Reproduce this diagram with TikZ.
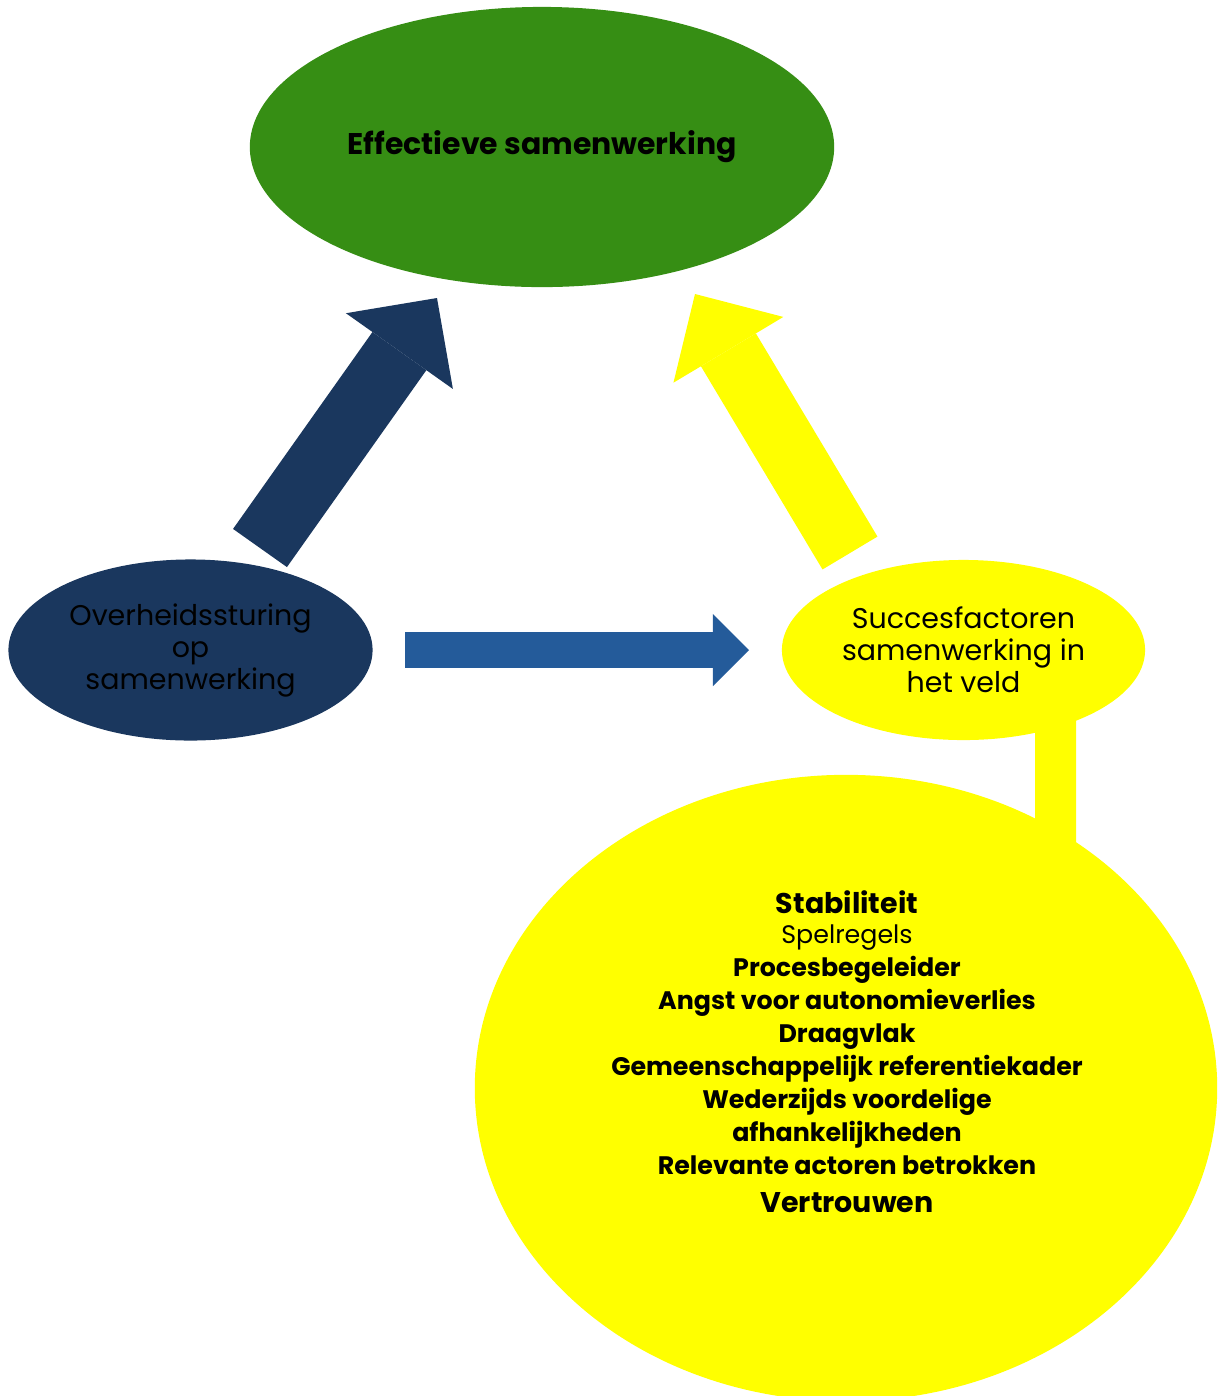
\documentclass[tikz,border=0pt]{standalone}
\usepackage{fontspec}
\setmainfont{Poppins}
\usepackage{xcolor}
\usepackage{tikz}
\usetikzlibrary{positioning,shapes.geometric,arrows.meta,backgrounds}

\definecolor{groen}{RGB}{54,142,20}
\definecolor{marine}{RGB}{26,55,94}
\definecolor{midblauw}{RGB}{36,91,154}
\definecolor{geel}{RGB}{255,255,0}

\begin{document}
\begin{tikzpicture}[x=0.01cm, y=-0.01cm,
    ovaal/.style={ellipse, draw=none, inner sep=0pt, align=center, text=black},
    kop/.style={font=\bfseries\fontsize{8.5}{10.5}\selectfont},
    tekst/.style={font=\fontsize{8.1}{9.1}\selectfont},
    lijn/.style={font=\bfseries\fontsize{7.2}{9.4}\selectfont, align=center},
    dikpijl/.style n args={3}{line width=#1, -{Triangle[length=#2, width=#3, line width=0pt]}}]

    \useasboundingbox (0,0) rectangle (1217,1396);

    \node [ovaal, kop, fill=groen, minimum width=5.84cm, minimum height=2.80cm] (effect) at (542,147) {\raisebox{-1pt}{Effectieve samenwerking}};
    \node [ovaal, tekst, fill=marine, minimum width=3.64cm, minimum height=1.81cm] (sturing) at (190.5,650) {Overheidssturing\\op\\samenwerking};
    \node [ovaal, tekst, fill=geel, minimum width=3.63cm, minimum height=1.80cm] (succes) at (963.5,650) {Succesfactoren\\samenwerking in\\het veld};
    \node [ovaal, fill=geel, minimum width=7.42cm, minimum height=6.26cm] (factoren) at (846,1088) {};

    \node [lijn] (lijst) at (847,1052) {{\fontsize{8.1}{10}\selectfont Stabiliteit}\\[-0.9pt]
        {\mdseries Spelregels}\\
        Procesbegeleider\\
        Angst voor autonomieverlies\\
        Draagvlak\\
        Gemeenschappelijk referentiekader\\
        Wederzijds voordelige\\
        afhankelijkheden\\
        Relevante actoren betrokken\\[1.4pt]
        {\fontsize{8.1}{10}\selectfont Vertrouwen}};

    \coordinate (s1) at (260,548);
    \coordinate (s2) at (437,298);
    \coordinate (v1) at (850,553);
    \coordinate (v2) at (695,294);
    \coordinate (h1) at (405,650);
    \coordinate (h2) at (749,650);

    \draw [dikpijl={0.66cm}{0.65cm}{1.31cm}, marine] (s1) -- (s2);
    \draw [dikpijl={0.64cm}{0.65cm}{1.28cm}, geel] (v1) -- (v2);
    \draw [dikpijl={0.36cm}{0.36cm}{0.72cm}, midblauw] (h1) -- (h2);

    \begin{scope}[on background layer]
        \draw [geel, line width=0.41cm] ([xshift=0.92cm]succes.center) -- ([xshift=2.095cm]factoren.center);
    \end{scope}
\end{tikzpicture}
\end{document}
